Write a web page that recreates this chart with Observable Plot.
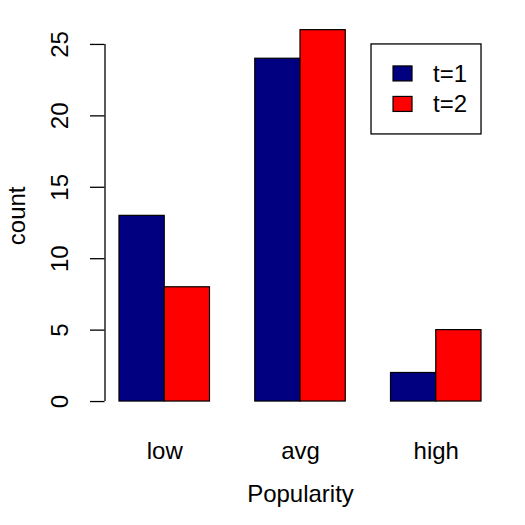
<!DOCTYPE html>
<html>
<head>
<meta charset="utf-8">
<script src="https://cdn.jsdelivr.net/npm/d3@7"></script>
<script src="https://cdn.jsdelivr.net/npm/@observablehq/plot@0.6"></script>
<style>
  html, body { margin: 0; padding: 0; background: #fff; }
  #chart svg { display: block; }
</style>
</head>
<body>
<div id="chart"></div>
<script>
// Popularity counts at two time points
const categories = ["low", "avg", "high"];
const seriesNames = ["t=1", "t=2"];
const countT1 = [13, 24, 2];
const countT2 = [8, 26, 5];
const yTicks = [0, 5, 10, 15, 20, 25];

const fills = ["#000080", "#FF0000"];
const font = "'Liberation Sans', Arial, Helvetica, sans-serif";
const fontSize = 24;

// Grouped bar layout: each group is one unit of space followed by one unit per series
const series = [countT1, countT2];
const bars = [];
categories.forEach((cat, i) => {
  series.forEach((vals, j) => {
    const left = 1 + i * (series.length + 1) + j;
    bars.push({category: cat, series: seriesNames[j], value: vals[i], x1: left, x2: left + 1, k: j});
  });
});

const groupCenters = categories.map((cat, i) => ({
  category: cat,
  x: 1 + i * (series.length + 1) + series.length / 2
}));

// Axis ranges padded by 4% on each side
const xMin = 1, xMax = categories.length * (series.length + 1);
const xPad = (xMax - xMin) * 0.04;
const yMax = d3.max([...countT1, ...countT2]);
const yPad = yMax * 0.04;
const xDomain = [xMin - xPad, xMax + xPad];
const yDomain = [-yPad, yMax + yPad];

const plot = Plot.plot({
  width: 525,
  height: 525,
  marginLeft: 104.5,
  marginRight: 29.5,
  marginTop: 14.8,
  marginBottom: 109.1,
  style: {fontFamily: font, fontSize: fontSize + "px", background: "#fff", color: "#000"},
  x: {domain: xDomain, axis: null},
  y: {domain: yDomain, axis: null},
  marks: [
    Plot.rectY(bars, {
      x1: "x1", x2: "x2", y1: 0, y2: "value",
      fill: d => fills[d.k],
      stroke: "#000", strokeWidth: 1.2
    }),
    // y axis line spanning the tick range
    Plot.ruleX([xDomain[0]], {y1: yTicks[0], y2: yTicks[yTicks.length - 1], stroke: "#000", strokeWidth: 1.3}),
    Plot.axisY({ticks: yTicks, tickSize: 14.5, tickFormat: () => "", label: null, stroke: "#000", strokeWidth: 1.3}),
    Plot.text(yTicks, {
      y: d => d, text: d => String(d), frameAnchor: "left", dx: -44.5,
      rotate: -90, textAnchor: "middle", fontSize, fill: "#000"
    }),
    Plot.text(["count"], {
      frameAnchor: "left", dx: -87.5, rotate: -90, textAnchor: "middle", fontSize, fill: "#000"
    }),
    Plot.text(groupCenters, {
      x: "x", text: "category", frameAnchor: "bottom", dy: 34.6,
      lineAnchor: "middle", fontSize, fill: "#000"
    }),
    Plot.text(["Popularity"], {
      frameAnchor: "bottom", dy: 77.6, lineAnchor: "middle", fontSize, fill: "#000"
    })
  ]
});

// Legend box anchored at the top-right of the bar extent
const sx = plot.scale("x"), sy = plot.scale("y");
const boxRight = sx.apply(xMax), boxTop = sy.apply(25);
const boxW = 110, boxH = 90;
const svg = d3.select(plot);
const lg = svg.append("g").attr("transform", `translate(${boxRight - boxW},${boxTop})`)
  .attr("font-family", font).attr("font-size", fontSize).attr("text-anchor", "start");
lg.append("rect").attr("x", 0).attr("y", 0).attr("width", boxW).attr("height", boxH)
  .attr("fill", "#fff").attr("stroke", "#000").attr("stroke-width", 1.3);
seriesNames.forEach((name, j) => {
  lg.append("rect").attr("x", 22).attr("y", 22 + j * 30.5).attr("width", 19).attr("height", 15)
    .attr("fill", fills[j]).attr("stroke", "#000").attr("stroke-width", 1.2);
  lg.append("text").attr("x", 62).attr("y", 38 + j * 30.5).attr("fill", "#000").text(name);
});

document.getElementById("chart").appendChild(plot);
</script>
</body>
</html>
